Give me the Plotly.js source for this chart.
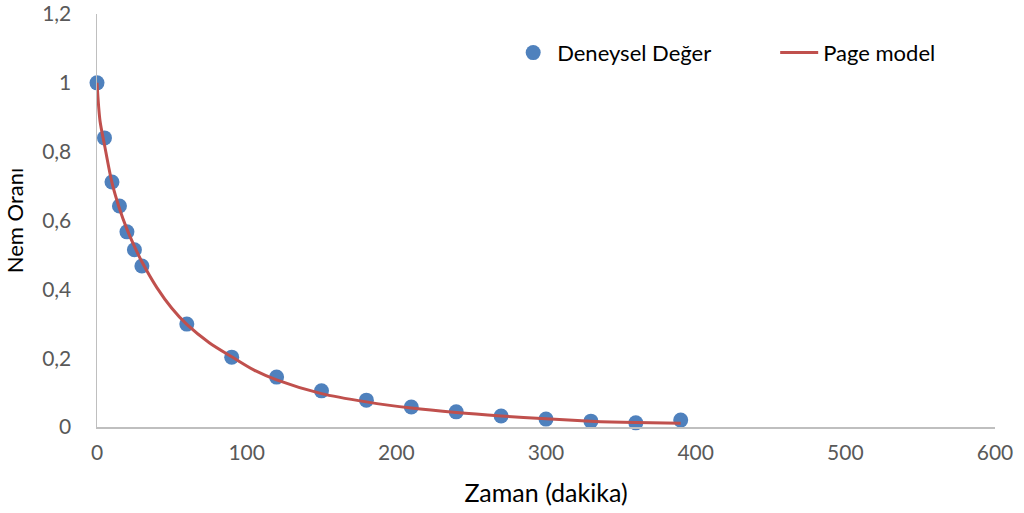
<!DOCTYPE html>
<html>
<head>
<meta charset="utf-8">
<script src="https://cdn.plot.ly/plotly-3.0.1.min.js"></script>
<style>html,body{margin:0;padding:0;background:#fff;}#chart{width:1024px;height:513px;}</style>
</head>
<body>
<div id="chart"></div>
<script>
// Experimental data
const timeExp = [0, 5, 10, 15, 20, 25, 30, 60, 90, 120, 150, 180, 210, 240, 270, 300, 330, 360, 390];
const mrExp = [1.0, 0.840, 0.712, 0.642, 0.567, 0.515, 0.468, 0.299, 0.203, 0.145, 0.105, 0.078, 0.058, 0.044, 0.032, 0.023, 0.017, 0.012, 0.020];
// Page model curve
const timeModel = [0, 2, 5, 10, 15, 20, 25, 30, 40, 50, 60, 75, 90, 105, 120, 150, 180, 210, 240, 270, 300, 330, 360, 390];
const mrModel = [1.0, 0.89, 0.82, 0.71, 0.635, 0.575, 0.525, 0.48, 0.405, 0.345, 0.298, 0.245, 0.204, 0.165, 0.137, 0.097, 0.073, 0.055, 0.042, 0.032, 0.024, 0.017, 0.013, 0.011];
const seriesNames = ['Deneysel Değer', 'Page model'];
const xTitle = 'Zaman (dakika)';
const yTitle = 'Nem Oranı';

const FONT = 'Lato, "Open Sans", sans-serif';

const traces = [
  {
    x: timeExp, y: mrExp, name: seriesNames[0], type: 'scatter', mode: 'markers',
    marker: {color: '#4F81BD', size: 15},
    cliponaxis: false
  },
  {
    x: timeModel, y: mrModel, name: seriesNames[1], type: 'scatter', mode: 'lines',
    line: {color: '#C0504D', width: 3, shape: 'spline', smoothing: 0.8},
    cliponaxis: false
  }
];

const layout = {
  width: 1024, height: 513,
  margin: {l: 97, r: 29, t: 14, b: 86, autoexpand: false},
  paper_bgcolor: '#fff', plot_bgcolor: '#fff',
  separators: ', ',
  font: {family: FONT, size: 21, color: '#595959'},
  showlegend: true,
  legend: {
    orientation: 'h', x: 0.459, xanchor: 'left', y: 0.906, yanchor: 'middle',
    font: {family: FONT, size: 22, color: '#000'},
    itemwidth: 38,
    entrywidth: 213, entrywidthmode: 'pixels',
    bgcolor: 'rgba(0,0,0,0)'
  },
  xaxis: {
    range: [0, 600], dtick: 100, tick0: 0,
    showgrid: false, zeroline: false,
    showline: true, linecolor: '#BFBFBF', linewidth: 1.5,
    ticks: 'outside', ticklen: 6, tickcolor: 'rgba(0,0,0,0)',
    tickfont: {family: FONT, size: 21, color: '#595959'},
    title: {text: xTitle, font: {family: FONT, size: 25, color: '#000'}, standoff: 22}
  },
  yaxis: {
    range: [0, 1.2], dtick: 0.2, tick0: 0,
    showgrid: false, zeroline: false,
    showline: true, linecolor: '#BFBFBF', linewidth: 1.5,
    ticks: 'outside', ticklen: 20, tickcolor: 'rgba(0,0,0,0)',
    tickfont: {family: FONT, size: 21, color: '#595959'},
    title: {text: yTitle, font: {family: FONT, size: 22, color: '#000'}, standoff: 12}
  }
};

Plotly.newPlot('chart', traces, layout, {displayModeBar: false, staticPlot: true});
</script>
</body>
</html>
